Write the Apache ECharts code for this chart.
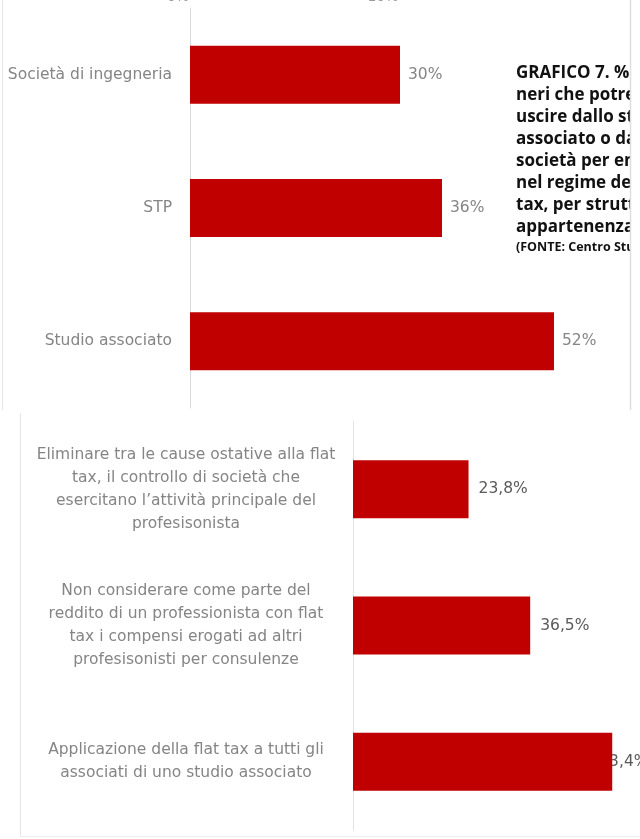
<!DOCTYPE html>
<html>
<head>
<meta charset="utf-8">
<script src="https://cdn.jsdelivr.net/npm/echarts@6/dist/echarts.min.js"></script>
<style>
  html, body { margin: 0; padding: 0; background: #ffffff; }
  #wrap { position: relative; width: 640px; height: 839px; overflow: hidden; }
  #chart { position: absolute; left: 0; top: 0; width: 640px; height: 839px; filter: blur(0.5px); }
  #caption { position: absolute; left: 500px; top: 0; width: 140px; height: 412px; }
</style>
</head>
<body>
<div id="wrap">
  <div id="chart"></div>
  <div id="caption"></div>
</div>
<script>
// Upper panel: share of engineers by organisational structure
const structureCategories = ['Società di ingegneria', 'STP', 'Studio associato'];
const structureShares = [30, 36, 52];

// Lower panel: proposed measures
const measureCategories = [
  'Eliminare tra le cause ostative alla flat\ntax, il controllo di società che\nesercitano l’attività principale del\nprofesisonista',
  'Non considerare come parte del\nreddito di un professionista con flat\ntax i compensi erogati ad altri\nprofesisonisti per consulenze',
  'Applicazione della flat tax a tutti gli\nassociati di uno studio associato'
];
const measureShares = [23.8, 36.5, 53.4];

// Axis tick labels of the panel above (cut at the top edge)
const upperTickLabels = ['0%', '10%'];

// Side caption
const titleLines = [
  'GRAFICO 7. % di ingeg-',
  'neri che potrebbero',
  'uscire dallo studio',
  'associato o dalla',
  'società per entrare',
  'nel regime della flat',
  'tax, per struttura di',
  'appartenenza'
];
const sourceLine = '(FONTE: Centro Studi CNI)';

const labelFont = '"DejaVu Sans", "Open Sans", sans-serif';
const labelSize = 15.5;
const fmtIt = v => String(v).replace('.', ',') + '%';

const chart = echarts.init(document.getElementById('chart'), null, { renderer: 'canvas' });

chart.setOption({
  animation: false,
  backgroundColor: '#ffffff',
  grid: [
    { left: 190, top: 8, width: 420, height: 400 },
    { left: 353, top: 421, width: 267, height: 409 }
  ],
  xAxis: [
    { gridIndex: 0, type: 'value', min: 0, max: 60, show: false },
    { gridIndex: 1, type: 'value', min: 0, max: 55, show: false }
  ],
  yAxis: [
    {
      gridIndex: 0, type: 'category', inverse: true, data: structureCategories,
      axisLine: { lineStyle: { color: '#d9d9d9', width: 1 } },
      axisTick: { show: false },
      axisLabel: { color: '#858585', fontSize: labelSize, fontFamily: labelFont, margin: 18 }
    },
    {
      gridIndex: 1, type: 'category', inverse: true, data: measureCategories,
      axisLine: { lineStyle: { color: '#e3e3e3', width: 1 } },
      axisTick: { show: false },
      axisLabel: {
        color: '#858585', fontSize: labelSize, fontFamily: labelFont,
        align: 'center', margin: 167, lineHeight: 23
      }
    }
  ],
  series: [
    {
      name: 'Struttura', type: 'bar', xAxisIndex: 0, yAxisIndex: 0,
      data: structureShares, barWidth: 58,
      itemStyle: { color: '#c00000' },
      label: {
        show: true, position: 'right', distance: 8,
        formatter: p => p.value + '%',
        color: '#858585', fontSize: labelSize, fontFamily: labelFont
      }
    },
    {
      // value labels, kept underneath the bars
      name: 'Etichette', type: 'bar', xAxisIndex: 1, yAxisIndex: 1, z: 1,
      barWidth: 58, barGap: '-100%',
      data: measureShares.map((v, i) => ({
        value: v,
        label: { distance: i === measureShares.length - 1 ? -13 : 10 }
      })),
      itemStyle: { color: 'rgba(0,0,0,0)' },
      label: {
        show: true, position: 'right',
        formatter: p => fmtIt(p.value),
        color: '#5a5a5a', fontSize: labelSize, fontFamily: labelFont
      },
      silent: true
    },
    {
      name: 'Misure', type: 'bar', xAxisIndex: 1, yAxisIndex: 1, z: 2,
      data: measureShares, barWidth: 58, barGap: '-100%',
      itemStyle: { color: '#c00000' }
    }
  ],
  graphic: [
    // panel borders
    { type: 'line', z: 50, shape: { x1: 2.5, y1: 0, x2: 2.5, y2: 410 }, style: { stroke: '#e6e6e6', lineWidth: 1 } },
    { type: 'line', z: 50, shape: { x1: 20.5, y1: 413, x2: 20.5, y2: 836 }, style: { stroke: '#e6e6e6', lineWidth: 1 } },
    { type: 'line', z: 50, shape: { x1: 20, y1: 836.5, x2: 640, y2: 836.5 }, style: { stroke: '#ececec', lineWidth: 1 } },
    // cut tick labels at the top edge
    { type: 'text', z: 50, x: 178, y: -10, style: { text: upperTickLabels[0], fill: '#9a9a9a', font: '14px ' + labelFont, align: 'center' } },
    { type: 'text', z: 50, x: 383, y: -10, style: { text: upperTickLabels[1], fill: '#9a9a9a', font: '14px ' + labelFont, align: 'center' } }
  ]
});

// Caption column, drawn sharp on top of the chart
const caption = echarts.init(document.getElementById('caption'), null, { renderer: 'canvas' });
caption.setOption({
  animation: false,
  graphic: [
    {
      type: 'text', z: 60, x: 16, y: 62,
      style: { text: titleLines.join('\n'), fill: '#111111', font: 'bold 17px "Open Sans", sans-serif', lineHeight: 22 }
    },
    {
      type: 'text', z: 60, x: 16, y: 239,
      style: { text: sourceLine, fill: '#111111', font: 'bold 12.5px "Open Sans", sans-serif', lineHeight: 16 }
    },
    // right column edge
    { type: 'rect', z: 70, shape: { x: 131, y: 0, width: 9, height: 412 }, style: { fill: '#ffffff' } },
    { type: 'line', z: 71, shape: { x1: 130.5, y1: 0, x2: 130.5, y2: 410 }, style: { stroke: '#dedede', lineWidth: 1.5 } }
  ]
});
</script>
</body>
</html>
